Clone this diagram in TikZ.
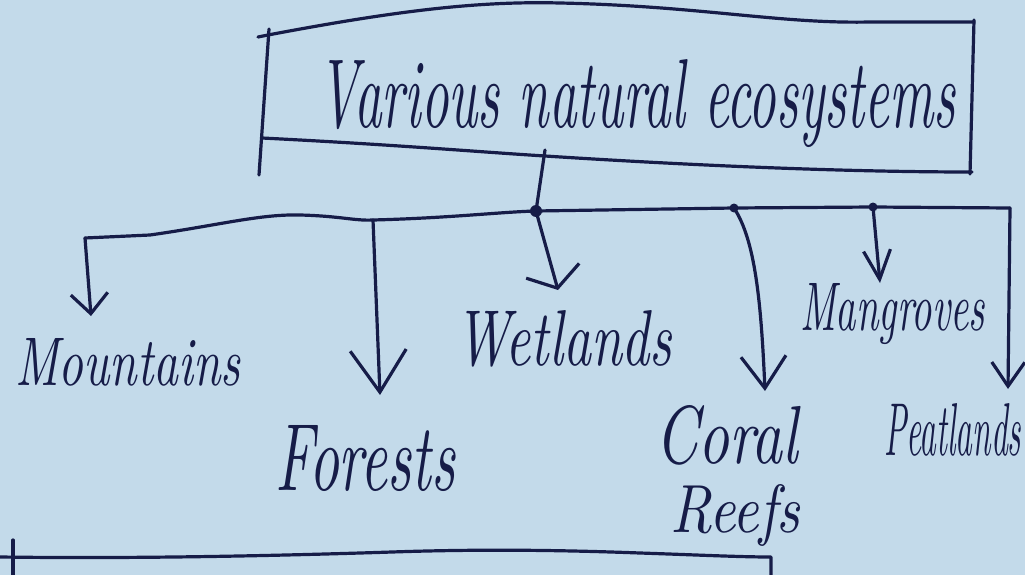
\documentclass[tikz,border=0pt]{standalone}
\usepackage{graphicx}
\usetikzlibrary{arrows.meta}
\definecolor{paper}{RGB}{195,218,234}
\definecolor{ink}{RGB}{22,28,72}
\newcommand\hwlabel[3]{\resizebox{#1pt}{#2pt}{\itshape #3}}
\begin{document}
\begin{tikzpicture}[x=1pt,y=-1pt,
  pen/.style={draw=ink,line width=3.2pt,line cap=round,line join=round},
  lbl/.style={inner sep=0pt,anchor=base west,text=ink},
  arr/.style n args={2}{pen,-{Straight Barb[length=#1pt,width=#2pt]}},
  blob/.style={fill=ink}]
\useasboundingbox (0,0) rectangle (1025,575);
\fill[paper] (0,0) rectangle (1025,575);
\begin{scope}
\clip (0,0) rectangle (1025,575);
% title box (hand drawn)
\draw[pen] (258,37) -- (268,35) .. controls (400,10) and (480,1) .. (560,3)
  .. controls (700,6) and (780,24) .. (870,22) -- (974,22);
\draw[pen] (269,29) -- (259,175);
\draw[pen] (974,20) -- (970,174);
\draw[pen] (262,138) .. controls (400,145) and (480,152) .. (545,156)
  .. controls (700,166) and (850,172) .. (972,172);
% labels
\node[lbl] (title) at (318,128) {\hwlabel{637}{68}{Various natural ecosystems}};
\node[lbl] (mount) at (15,385) {\hwlabel{225}{47}{Mountains}};
\node[lbl] (forest) at (275,490) {\hwlabel{180}{65}{Forests}};
\node[lbl] (wet) at (455,365) {\hwlabel{217}{55}{Wetlands}};
\node[lbl] (coral) at (655,463) {\hwlabel{143}{58}{Coral}};
\node[lbl] (reefs) at (670,532) {\hwlabel{130}{48}{Reefs}};
\node[lbl] (mang) at (800,330) {\hwlabel{185}{47}{Mangroves}};
\node[lbl] (peat) at (884,455) {\hwlabel{137}{52}{Peatlands}};
% junctions and arrow ends
\coordinate (top) at (545,150);
\coordinate (jW) at (536,211);
\coordinate (jM) at (85,238);
\coordinate (jF) at (373,220);
\coordinate (jC) at (734,208);
\coordinate (jG) at (873,207);
\coordinate (jP) at (1010,208);
\coordinate (tM) at (91,316);
\coordinate (tF) at (380,395);
\coordinate (tW) at (558,290);
\coordinate (tC) at (765,391);
\coordinate (tG) at (880,283);
\coordinate (tP) at (1008,389);
% trunk and bus
\draw[pen] (top) -- (jW);
\draw[pen] (jM) -- (150,235) .. controls (220,225) and (260,214) .. (300,215)
  .. controls (340,216) and (355,221) .. (jF)
  .. controls (450,218) and (500,212) .. (jW) -- (jC) -- (jG) -- (jP);
\fill[blob] (jW) circle (6);
\fill[blob] (jC) circle (4.5);
\fill[blob] (jG) circle (4.5);
% drops
\draw[arr={20}{37}] (jM) -- (tM);
\draw[arr={42}{56}] (jF) -- (tF);
\draw[arr={18}{55}] (jW) -- (tW);
\draw[arr={32}{45}] (jC) .. controls (755,240) and (761,300) .. (tC);
\draw[arr={29}{27}] (jG) -- (tG);
\draw[arr={24}{33}] (jP) -- (tP);
% bottom box (cut off)
\draw[pen] (0,557) .. controls (150,559) and (300,555) .. (392,552)
  .. controls (480,549) and (560,550) .. (640,553)
  .. controls (700,555) and (740,557) .. (771,557) -- (771,580);
\draw[pen] (13,540) -- (13,580);
\end{scope}
\end{tikzpicture}
\end{document}
